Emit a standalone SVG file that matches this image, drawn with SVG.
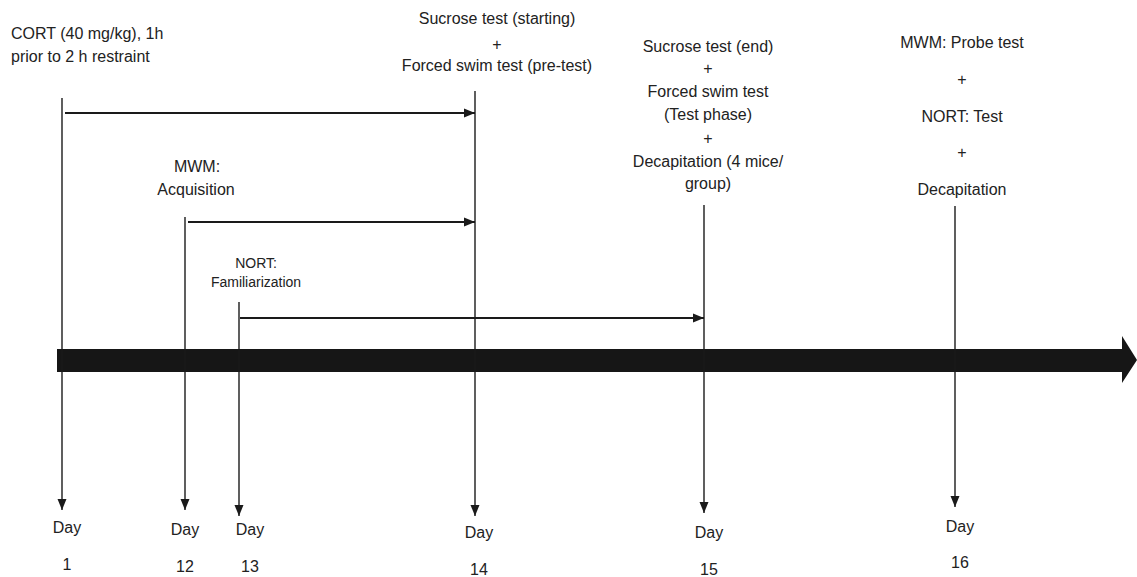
<svg xmlns="http://www.w3.org/2000/svg" width="1137" height="577" viewBox="0 0 1137 577">
<style>
  text { font-family: "Liberation Sans", Arial, sans-serif; font-size: 16px; fill: #222; }
  .c { text-anchor: middle; }
  .sm { font-size: 14px; }
  .v { stroke: #1a1a1a; stroke-width: 1.4; fill: none; }
  .h { stroke: #1a1a1a; stroke-width: 2; fill: none; }
</style>
<defs>
  <marker id="ah" markerUnits="userSpaceOnUse" markerWidth="12" markerHeight="10" refX="11" refY="5" orient="auto">
    <path d="M0,0.5 L11,5 L0,9.5 Z" fill="#1a1a1a"/>
  </marker>
</defs>
<rect width="1137" height="577" fill="#fff"/>

<g id="timeline">
  <path d="M57,349 H1122 V336 L1137,360 L1122,383 V372 H57 Z" fill="#161616"/>
</g>

<g id="connectors">
  <line class="v" x1="62" y1="98" x2="62" y2="510" marker-end="url(#ah)"/>
  <line class="v" x1="185" y1="217" x2="185" y2="510" marker-end="url(#ah)"/>
  <line class="v" x1="239" y1="302" x2="239" y2="516" marker-end="url(#ah)"/>
  <line class="v" x1="475" y1="91" x2="475" y2="516" marker-end="url(#ah)"/>
  <line class="v" x1="704" y1="205" x2="704" y2="513" marker-end="url(#ah)"/>
  <line class="v" x1="955" y1="206" x2="955" y2="507" marker-end="url(#ah)"/>
  <line class="h" x1="65" y1="113" x2="475" y2="113" marker-end="url(#ah)"/>
  <line class="h" x1="188" y1="222" x2="475" y2="222" marker-end="url(#ah)"/>
  <line class="h" x1="240" y1="318" x2="704" y2="318" marker-end="url(#ah)"/>
</g>

<g id="event-cort">
  <text x="11" y="39">CORT (40 mg/kg), 1h</text>
  <text x="11" y="62">prior to 2 h restraint</text>
</g>
<g id="event-mwm-acq">
  <text class="c" x="197" y="172">MWM:</text>
  <text class="c" x="196" y="195">Acquisition</text>
</g>
<g id="event-nort-fam">
  <text class="c sm" x="256" y="268">NORT:</text>
  <text class="c sm" x="256" y="287">Familiarization</text>
</g>
<g id="event-day14">
  <text class="c" x="497" y="24">Sucrose test (starting)</text>
  <text class="c" x="497" y="50">+</text>
  <text class="c" x="497" y="71">Forced swim test (pre-test)</text>
</g>
<g id="event-day15">
  <text class="c" x="708" y="52">Sucrose test (end)</text>
  <text class="c" x="708" y="74">+</text>
  <text class="c" x="708" y="97">Forced swim test</text>
  <text class="c" x="708" y="120">(Test phase)</text>
  <text class="c" x="708" y="144">+</text>
  <text class="c" x="708" y="167">Decapitation (4 mice/</text>
  <text class="c" x="708" y="189">group)</text>
</g>
<g id="event-day16">
  <text class="c" x="962" y="48">MWM: Probe test</text>
  <text class="c" x="962" y="85">+</text>
  <text class="c" x="962" y="122">NORT: Test</text>
  <text class="c" x="962" y="158">+</text>
  <text class="c" x="962" y="195">Decapitation</text>
</g>

<g id="day-1">
  <text class="c" x="67" y="533">Day</text>
  <text class="c" x="67" y="570">1</text>
</g>
<g id="day-12">
  <text class="c" x="185" y="535">Day</text>
  <text class="c" x="185" y="572">12</text>
</g>
<g id="day-13">
  <text class="c" x="250" y="535">Day</text>
  <text class="c" x="250" y="572">13</text>
</g>
<g id="day-14">
  <text class="c" x="479" y="538">Day</text>
  <text class="c" x="479" y="575">14</text>
</g>
<g id="day-15">
  <text class="c" x="709" y="538">Day</text>
  <text class="c" x="709" y="575">15</text>
</g>
<g id="day-16">
  <text class="c" x="960" y="532">Day</text>
  <text class="c" x="960" y="568">16</text>
</g>
</svg>
